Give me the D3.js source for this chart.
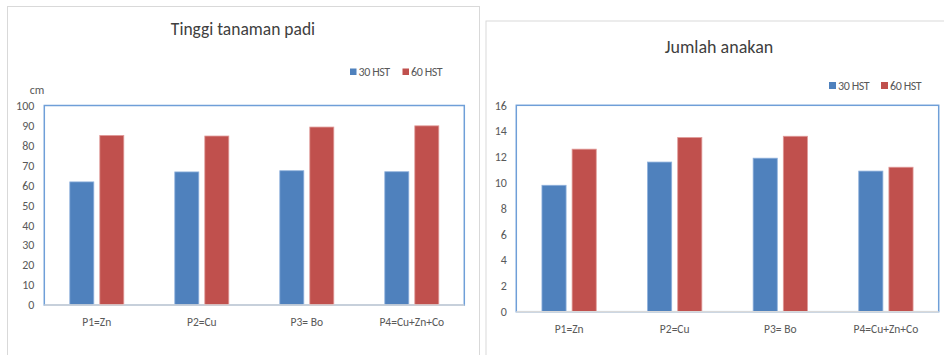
<!DOCTYPE html>
<html>
<head>
<meta charset="utf-8">
<script src="https://cdn.jsdelivr.net/npm/d3@7"></script>
<style>
  html, body { margin: 0; padding: 0; background: #fff; }
  svg { display: block; font-family: Carlito, Calibri, Lato, sans-serif; }
</style>
</head>
<body>
<svg id="chart" width="944" height="355"></svg>
<script>
// Treatments and sampling times
const categories = ["P1=Zn", "P2=Cu", "P3= Bo", "P4=Cu+Zn+Co"];
const seriesNames = ["30 HST", "60 HST"];

// Plant height (cm)
const heightTitle = "Tinggi tanaman padi";
const height30 = [61.7, 66.7, 67.3, 66.8];
const height60 = [85.0, 84.7, 89.2, 89.8];
const heightTicks = [0, 10, 20, 30, 40, 50, 60, 70, 80, 90, 100];

// Number of tillers
const tillerTitle = "Jumlah anakan";
const tiller30 = [9.8, 11.6, 11.9, 10.9];
const tiller60 = [12.6, 13.5, 13.6, 11.2];
const tillerTicks = [0, 2, 4, 6, 8, 10, 12, 14, 16];

const colors = { "30 HST": "#4F81BD", "60 HST": "#C0504D" };
const edgeColors = { "30 HST": "#8eb0dc", "60 HST": "#e09a98" };

const svg = d3.select("#chart");

function drawPanel(opt) {
  const g = svg.append("g");

  // outer chart frame
  g.append("rect")
    .attr("x", opt.frame[0] + 0.5).attr("y", opt.frame[1] + 0.5)
    .attr("width", opt.frame[2]).attr("height", opt.frame[3])
    .attr("fill", "#fff").attr("stroke", "#d9d9d9").attr("stroke-width", 1);

  const rows = categories.map((c, i) => ({ cat: c, "30 HST": opt.s30[i], "60 HST": opt.s60[i] }));

  const x0 = d3.scaleBand().domain(categories).range([opt.plot.left, opt.plot.right]).padding(0);
  const x1 = d3.scaleBand().domain(seriesNames).range([0, x0.bandwidth()])
    .paddingInner(0.2).paddingOuter(0.85);
  const y = d3.scaleLinear().domain([0, d3.max(opt.ticks)]).range([opt.plot.bottom, opt.plot.top]);

  // title
  g.append("text")
    .attr("x", opt.titleX).attr("y", opt.titleY)
    .attr("text-anchor", "middle")
    .attr("font-size", opt.titleSize).attr("fill", "#404040")
    .text(opt.title);

  // legend
  const lg = g.append("g");
  seriesNames.forEach((s, i) => {
    lg.append("rect")
      .attr("x", opt.legend[i]).attr("y", opt.legendY - opt.sq - 1)
      .attr("width", opt.sq).attr("height", opt.sq)
      .attr("fill", colors[s]);
    lg.append("text")
      .attr("x", opt.legend[i] + opt.sq + 2).attr("y", opt.legendY)
      .attr("font-size", opt.legendSize).attr("fill", "#595959")
      .attr("letter-spacing", "-0.4")
      .text(s);
  });

  // plot area outline
  g.append("rect")
    .attr("x", opt.plot.left).attr("y", opt.plot.top)
    .attr("width", opt.plot.right - opt.plot.left)
    .attr("height", opt.plot.bottom - opt.plot.top)
    .attr("fill", "none").attr("stroke", "#6f9fd8").attr("stroke-width", 1.5);

  // bars
  g.append("g").selectAll("g")
    .data(rows).join("g")
    .attr("transform", d => `translate(${x0(d.cat)},0)`)
    .selectAll("rect")
    .data(d => seriesNames.map(s => ({ key: s, value: d[s] })))
    .join("rect")
    .attr("x", d => x1(d.key))
    .attr("y", d => y(d.value))
    .attr("width", x1.bandwidth())
    .attr("height", d => y(0) - y(d.value))
    .attr("fill", d => colors[d.key])
    .attr("stroke", d => edgeColors[d.key])
    .attr("stroke-width", 0.8);

  // category axis line
  g.append("line")
    .attr("x1", opt.plot.left).attr("x2", opt.plot.right)
    .attr("y1", opt.plot.bottom).attr("y2", opt.plot.bottom)
    .attr("stroke", "#d9d9d9").attr("stroke-width", 1.5);

  // value axis
  const yAxis = g.append("g")
    .attr("transform", `translate(${opt.plot.left},0)`)
    .call(d3.axisLeft(y).tickValues(opt.ticks).tickSize(0).tickPadding(opt.yPad));
  yAxis.select(".domain").remove();
  yAxis.selectAll("text")
    .attr("font-size", opt.tickSize).attr("fill", "#595959")
    .style("font-family", "Carlito, Calibri, Lato, sans-serif");

  // category axis labels
  const xAxis = g.append("g")
    .attr("transform", `translate(0,${opt.plot.bottom})`)
    .call(d3.axisBottom(x0).tickSize(0).tickPadding(opt.xPad));
  xAxis.select(".domain").remove();
  xAxis.selectAll("text")
    .attr("font-size", opt.catSize).attr("fill", "#595959")
    .style("font-family", "Carlito, Calibri, Lato, sans-serif");

  if (opt.unit) {
    g.append("text")
      .attr("x", opt.unit[0]).attr("y", opt.unit[1])
      .attr("text-anchor", "middle")
      .attr("font-size", 12).attr("fill", "#595959")
      .text(opt.unitLabel);
  }
}

drawPanel({
  frame: [7, 6, 472, 360],
  plot: { left: 44.3, right: 464.3, top: 105.5, bottom: 305 },
  title: heightTitle, titleX: 243, titleY: 35, titleSize: 17.5,
  legend: [350, 402.5], legendY: 76, legendSize: 12, sq: 6.5,
  s30: height30, s60: height60, ticks: heightTicks,
  yPad: 10, xPad: 13, tickSize: 12, catSize: 11.5,
  unit: [37, 94], unitLabel: "cm"
});

drawPanel({
  frame: [485.5, 20.5, 470, 360],
  plot: { left: 516.3, right: 938.7, top: 105.3, bottom: 311.7 },
  title: tillerTitle, titleX: 719, titleY: 53, titleSize: 18,
  legend: [829, 881], legendY: 90, legendSize: 12, sq: 7,
  s30: tiller30, s60: tiller60, ticks: tillerTicks,
  yPad: 9.5, xPad: 13.5, tickSize: 12, catSize: 11.5
});
</script>
</body>
</html>
